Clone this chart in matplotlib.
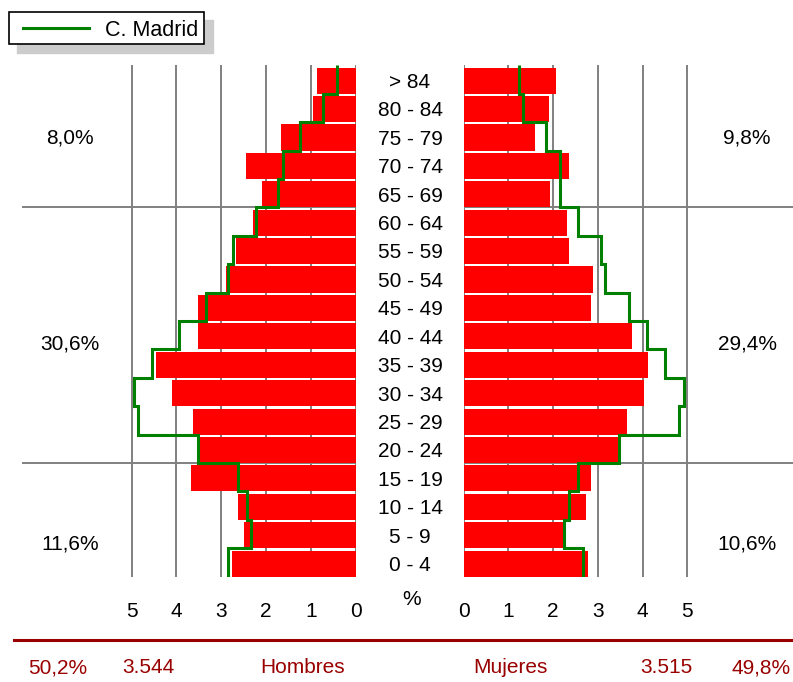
import numpy as np
import matplotlib.pyplot as plt
import matplotlib.transforms as mtransforms
from matplotlib.lines import Line2D
from matplotlib.patches import Rectangle

plt.rcParams['font.family'] = ['Liberation Sans', 'DejaVu Sans']

# Age groups, youngest first (bottom of the pyramid)
ages = ['0 - 4', '5 - 9', '10 - 14', '15 - 19', '20 - 24', '25 - 29', '30 - 34',
        '35 - 39', '40 - 44', '45 - 49', '50 - 54', '55 - 59', '60 - 64',
        '65 - 69', '70 - 74', '75 - 79', '80 - 84', '> 84']

# Percentages for the municipality
hombres = [2.77, 2.49, 2.63, 3.67, 3.50, 3.63, 4.10, 4.46, 3.52, 3.52,
           2.89, 2.68, 2.29, 2.09, 2.45, 1.67, 0.96, 0.87]
mujeres = [2.78, 2.25, 2.74, 2.85, 3.46, 3.65, 4.03, 4.12, 3.77, 2.85,
           2.89, 2.36, 2.31, 1.94, 2.36, 1.60, 1.91, 2.06]

# Percentages for the Comunidad de Madrid (reference outline)
madrid_h = [2.84, 2.33, 2.43, 2.63, 3.53, 4.85, 4.94, 4.54, 3.94, 3.34,
            2.84, 2.73, 2.23, 1.73, 1.63, 1.24, 0.73, 0.42]
madrid_m = [2.67, 2.25, 2.36, 2.56, 3.48, 4.82, 4.92, 4.50, 4.09, 3.70,
            3.17, 3.08, 2.56, 2.15, 2.15, 1.84, 1.33, 1.23]

# Broad age-group shares (old / adult / young)
grupos_h = ['8,0%', '30,6%', '11,6%']
grupos_m = ['9,8%', '29,4%', '10,6%']
grupos_y = [15.25, 8.0, 0.95]
separadores = [4, 13]

# Totals
tot_h = ['50,2%', '3.544', 'Hombres']
tot_m = ['Mujeres', '3.515', '49,8%']

W, H = 793, 682
fig = plt.figure(figsize=(W / 100, H / 100), dpi=100)

top, bottom = 65.3, 576.7
ax_l = fig.add_axes([22 / W, 1 - bottom / H, (356 - 22) / W, (bottom - top) / H])
ax_r = fig.add_axes([463.7 / W, 1 - bottom / H, (793 - 463.7) / W, (bottom - top) / H])

n = len(ages)
y = np.arange(n)
edges = np.arange(n + 1)
fs = 15
grid_c = '#808080'
green = '#008000'

for ax, vals, mad in ((ax_l, hombres, madrid_h), (ax_r, mujeres, madrid_m)):
    ax.barh(y, vals, height=0.92, align='edge', color='#ff0000', zorder=2)
    ax.stairs(mad, edges, orientation='horizontal', baseline=None,
              color=green, lw=2.2, zorder=3)
    ax.vlines(range(6), 0, n, colors=grid_c, lw=1.4, zorder=1)
    for s in separadores:
        ax.axhline(s, color=grid_c, lw=1.4, zorder=1)
    ax.set_ylim(0, n)
    ax.set_xticks(range(6))
    ax.set_yticks([])
    ax.tick_params(axis='x', length=0, pad=18, labelsize=fs)
    for sp in ax.spines.values():
        sp.set_visible(False)
    ax.patch.set_visible(False)

ax_l.set_xlim((356 - 22) / 44.9, 0)
ax_r.set_xlim(0, (793 - 463.7) / 44.7)

# age labels in the middle
trans = mtransforms.blended_transform_factory(fig.transFigure, ax_l.transData)
for i, lab in enumerate(ages):
    ax_l.text(410 / W, i + 0.2, lab, transform=trans, ha='center',
              va='baseline', fontsize=fs, clip_on=False)
fig.text(412 / W, 1 - 605 / H, '%', ha='center', va='baseline', fontsize=fs)

# group shares
for lab, yy in zip(grupos_h, grupos_y):
    ax_l.text(6.37, yy, lab, ha='center', va='baseline', fontsize=fs)
for lab, yy in zip(grupos_m, grupos_y):
    ax_r.text(6.34, yy, lab, ha='center', va='baseline', fontsize=fs)

# bottom totals
dark_red = '#990000'
fig.add_artist(Line2D([14 / W, 1], [1 - 640 / H] * 2, color=dark_red, lw=2.2))
for lab, xc in zip(tot_h + tot_m, [58, 148, 303, 510, 666, 761]):
    fig.text(xc / W, 1 - 673 / H, lab, ha='center', va='baseline',
             fontsize=fs, color=dark_red)

# legend box with flat grey shadow
fig.add_artist(Rectangle((17 / W, 1 - 53 / H), 196 / W, 33 / H,
                         transform=fig.transFigure, color='#cccccc', zorder=4))
fig.add_artist(Rectangle((9 / W, 1 - 44 / H), 195 / W, 32 / H,
                         transform=fig.transFigure, facecolor='white',
                         edgecolor='black', lw=1.2, zorder=5))
fig.add_artist(Line2D([22.7 / W, 89.3 / W], [1 - 28.3 / H] * 2,
                      color=green, lw=2.2, zorder=6))
fig.text(105 / W, 1 - 28.3 / H, 'C. Madrid', ha='left', va='center_baseline',
         fontsize=15.5, zorder=6)

fig.savefig('out.png', dpi=100)
